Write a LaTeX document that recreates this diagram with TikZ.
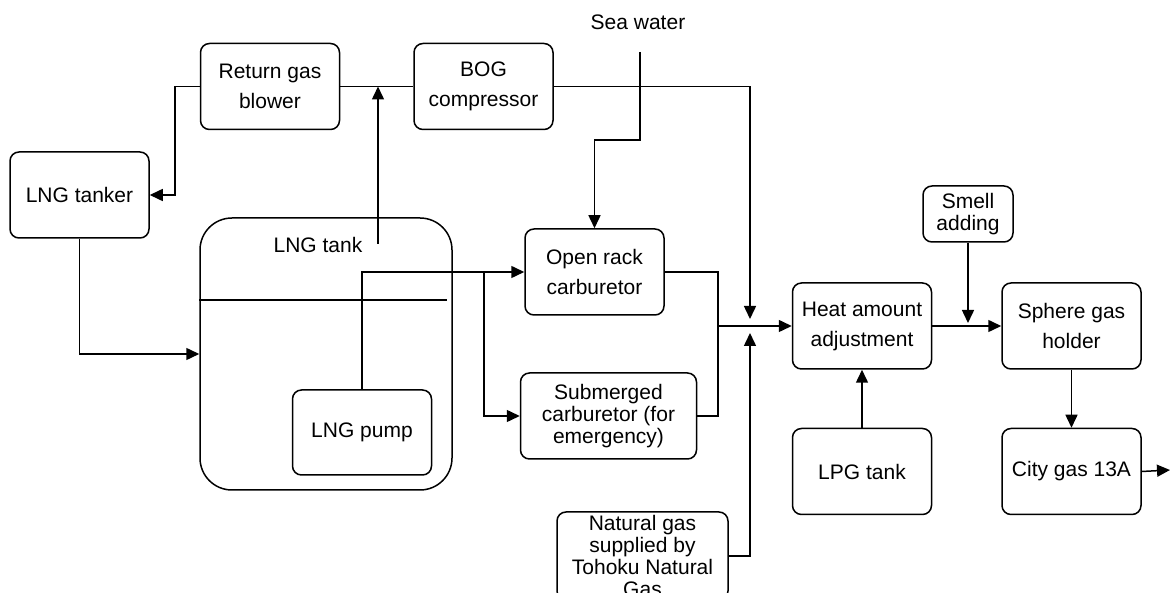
\documentclass[tikz,border=0pt]{standalone}
\usepackage{fontspec}
\setmainfont{Liberation Sans}
\usepackage{tikz}
\usetikzlibrary{arrows.meta, positioning, calc}
\tikzset{
    box/.style={rectangle, draw, rounded corners=9pt, minimum width=139pt, minimum height=86pt, align=center, inner sep=2pt, font=\fontsize{21}{30}\selectfont},
    flow/.style={-{Triangle[length=13pt, width=12pt]}}
}

\begin{document}
\begin{tikzpicture}[x=1pt, y=-1pt, line width=1.5pt,
    every node/.style={font=\fontsize{21}{30}\selectfont},
    tightbox/.style={box, font=\fontsize{21}{22}\selectfont},
    tankbox/.style={rectangle, draw, rounded corners=32pt, minimum width=252pt, minimum height=272pt}]

    \path [use as bounding box, clip] (0,0) rectangle (1171,593);

    % Receiving side: tanker, return gas and BOG
    \node (blower) [box] at (270,86.5) {Return gas\\blower};
    \node (bog) [box, right=73pt of blower] {BOG\\compressor};
    \node (tanker) [box] at (79.5,195) {LNG tanker};
    \node (seawater) at (638,22) {Sea water};

    % Storage
    \node (tank) [tankbox, label={[anchor=north, xshift=-8pt, yshift=-16pt]north:LNG tank}] at (326,354) {};
    \node (pump) [box, minimum height=85pt] at (362,432.5) {LNG pump};
    \draw ($(tank.west)+(0,-54)$) -- ++(248,0);

    % Vaporizers
    \node (openrack) [box] at (594.5,272) {Open rack\\carburetor};
    \node (subm) [tightbox, minimum width=176pt] at (608.5,416) {Submerged\\carburetor (for\\emergency)};
    \node (ngas) [tightbox, minimum width=171pt, minimum height=88pt] at (642.5,556) {Natural gas\\supplied by\\Tohoku Natural\\Gas};

    % Send-out side
    \node (heat) [box] at (862,326) {Heat amount\\adjustment};
    \node (lpg) [box, below=58pt of heat] {LPG tank};
    \node (smell) [tightbox, minimum width=90pt, minimum height=56pt] at (968,214) {Smell\\adding};
    \node (sphere) [box, right=69pt of heat] {Sphere gas\\holder};
    \node (city) [box, below=58pt of sphere] {City gas 13A};

    % Junction points
    \coordinate (vent) at (378,244);
    \coordinate (swin) at (640,52);
    \coordinate (split) at (484,272);
    \coordinate (collect) at (718,326);
    \coordinate (mix) at (750,326);
    \coordinate (exit) at (1170,470);

    % Arrows
    \draw [flow] (blower.west) -- ++(-25,0) |- (tanker.east);
    \draw [flow] (tanker.south) |- (tank.west);
    \draw (blower.east) -- (bog.west);
    \draw [flow] (vent) -- (vent |- blower.east);
    \draw [flow] (bog.east) -| ($(mix)+(0,-7)$);
    \draw [flow] (swin) -- ++(0,88) -| (openrack.north);
    \draw [flow] (pump.north) |- (openrack.west);
    \draw [flow] (split) |- (subm.west);
    \draw (openrack.east) -| (collect) |- (subm.east);
    \draw [flow] (collect) -- (heat.west);
    \draw [flow] (ngas.east) -| ($(mix)+(0,7)$);
    \draw [flow] (lpg) -- (heat);
    \draw [flow] (heat) -- (sphere);
    \draw [flow] (smell.south) -- ($(smell.south |- heat.east)+(0,-3)$);
    \draw [flow] (sphere) -- (city);
    \draw [flow] (city.east) -- (exit);
\end{tikzpicture}
\end{document}
